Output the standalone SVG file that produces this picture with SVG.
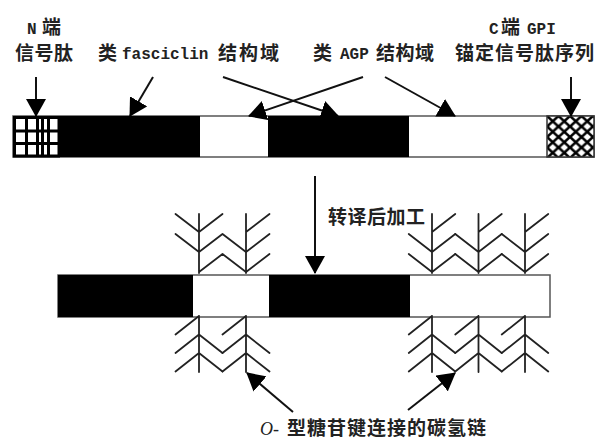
<svg xmlns="http://www.w3.org/2000/svg" width="598" height="441" viewBox="0 0 598 441">
  <style>
    .c { font-family: "Noto Sans CJK SC", "Noto Sans", sans-serif; font-size: 19px; font-weight: bold; fill: #222; }
    .m { font-family: "Liberation Mono", "DejaVu Sans Mono", monospace; font-size: 16px; font-weight: bold; fill: #222; }
    .mi { font-family: "Liberation Serif", serif; font-size: 18px; font-style: italic; fill: #222; }
    .bar { fill: #fff; stroke: #555; stroke-width: 1.5; }
    .blk { fill: #000; }
    .arr { stroke: #111; stroke-width: 2; fill: none; marker-end: url(#ah); }
    .tree { stroke: #222; stroke-width: 1.8; fill: none; stroke-linecap: round; stroke-linejoin: round; }
  </style>
  <defs>
    <marker id="ah" markerWidth="18" markerHeight="20" refX="17" refY="10" orient="auto" markerUnits="userSpaceOnUse">
      <path d="M0,0 L18,10 L0,20 Z" fill="#000"/>
    </marker>
    <pattern id="xhatch" patternUnits="userSpaceOnUse" x="547" y="116" width="11.5" height="10.5">
      <rect width="11.5" height="10.5" fill="#fff"/>
      <path d="M0,0 L11.5,10.5 M11.5,0 L0,10.5" stroke="#000" stroke-width="2.6"/>
    </pattern>
  </defs>

  <!-- precursor protein bar -->
  <g id="precursor">
    <rect class="bar" x="13" y="116" width="581" height="41"/>
    <rect class="blk" x="60" y="116" width="140" height="41"/>
    <rect class="blk" x="268" y="116" width="141" height="41"/>
    <!-- N-terminal signal peptide grid -->
    <g id="n-signal">
      <rect x="13" y="116" width="47" height="41" fill="#fff"/>
      <path d="M14.5,116V157 M26.5,116V157 M37.5,116V157 M42.5,116V157 M48.5,116V157 M59,116V157 M13,117.5H60 M13,131H60 M13,143.5H60 M13,156H60" stroke="#000" stroke-width="3" fill="none"/>
    </g>
    <!-- C-terminal GPI anchor signal -->
    <rect id="c-signal" x="547" y="116" width="47" height="41" fill="url(#xhatch)" stroke="#333" stroke-width="1.5"/>
  </g>

  <!-- mature protein bar -->
  <g id="mature">
    <rect class="bar" x="58" y="275" width="492" height="42"/>
    <rect class="blk" x="58" y="275" width="135" height="42"/>
    <rect class="blk" x="269" y="275" width="141" height="42"/>
  </g>

  <!-- O-linked glycan chains -->
  <g id="glycans-upper-left" class="tree">
    <path d="M199,214V273 M175.5,214L199,232L222.5,214 M175.5,234L199,252 M199,252L222.5,234L246,252 M199,272L222.5,254L246,272"/>
    <path d="M246,214V273 M246,232L269.5,214 M246,252L269.5,234 M246,272L269.5,254"/>
  </g>
  <g id="glycans-upper-right" class="tree">
    <path d="M432,214V273 M432,232L455.25,214 M432,252L455.25,234 M432,272L455.25,254 M408.75,234L432,252 M408.75,254L432,272"/>
    <path d="M478.5,214V273 M478.5,232L501.75,214 M478.5,252L501.75,234 M478.5,272L501.75,254 M455.25,234L478.5,252 M455.25,254L478.5,272"/>
    <path d="M525,214V273 M525,232L548.25,214 M525,252L548.25,234 M525,272L548.25,254 M501.75,234L525,252 M501.75,254L525,272"/>
  </g>
  <g id="glycans-lower-left" class="tree">
    <path d="M199,316V372 M199,316L175.5,334.5 M199,334.5L175.5,353 M199,353L175.5,371.5 M199,334.5L222.5,353 M199,353L222.5,371.5"/>
    <path d="M246,316V372 M246,316L222.5,334.5 M246,334.5L222.5,353 M246,353L222.5,371.5 M246,334.5L269.5,353 M246,353L269.5,371.5"/>
  </g>
  <g id="glycans-lower-right" class="tree">
    <path d="M432,316V372 M432,316L408.75,334.5 M432,334.5L408.75,353 M432,353L408.75,371.5 M432,334.5L455.25,353 M432,353L455.25,371.5"/>
    <path d="M478.5,316V372 M478.5,316L455.25,334.5 M478.5,334.5L455.25,353 M478.5,353L455.25,371.5 M478.5,334.5L501.75,353 M478.5,353L501.75,371.5"/>
    <path d="M525,316V372 M525,316L501.75,334.5 M525,334.5L501.75,353 M525,353L501.75,371.5 M525,334.5L548.25,353 M525,353L548.25,371.5"/>
  </g>

  <!-- connectors -->
  <g id="connectors">
    <line class="arr" x1="36" y1="77" x2="36" y2="116"/>
    <line class="arr" x1="153" y1="77" x2="130" y2="116"/>
    <line class="arr" x1="223" y1="77" x2="338" y2="116"/>
    <line class="arr" x1="363" y1="77" x2="249" y2="116"/>
    <line class="arr" x1="385" y1="77" x2="455" y2="116"/>
    <line class="arr" x1="571" y1="77" x2="571" y2="116"/>
    <line class="arr" x1="315" y1="176" x2="315" y2="273"/>
    <line class="arr" x1="293" y1="412" x2="247" y2="373"/>
    <line class="arr" x1="408" y1="410" x2="455" y2="373"/>
  </g>

  <!-- labels -->
  <g id="labels">
    <text class="m" x="27" y="34">N</text>
    <text class="c" x="42" y="34">端</text>
    <text class="c" x="15" y="60" letter-spacing="0.5">信号肽</text>

    <text class="c" x="98" y="60">类</text>
    <text class="m" x="122" y="59">fasciclin</text>
    <text class="c" x="218" y="60" letter-spacing="2">结构域</text>

    <text class="c" x="313" y="60">类</text>
    <text class="m" x="340" y="59">AGP</text>
    <text class="c" x="376" y="60" letter-spacing="0.5">结构域</text>

    <text class="m" x="489" y="34">C</text>
    <text class="c" x="501" y="34">端</text>
    <text class="m" x="527" y="34">GPI</text>
    <text class="c" x="455" y="60" letter-spacing="1">锚定信号肽序列</text>

    <text class="c" x="328" y="224" letter-spacing="0.5">转译后加工</text>

    <text class="mi" x="260" y="435">O-</text>
    <text class="c" x="287" y="435" letter-spacing="1">型糖苷键连接的碳氢链</text>
  </g>
</svg>
